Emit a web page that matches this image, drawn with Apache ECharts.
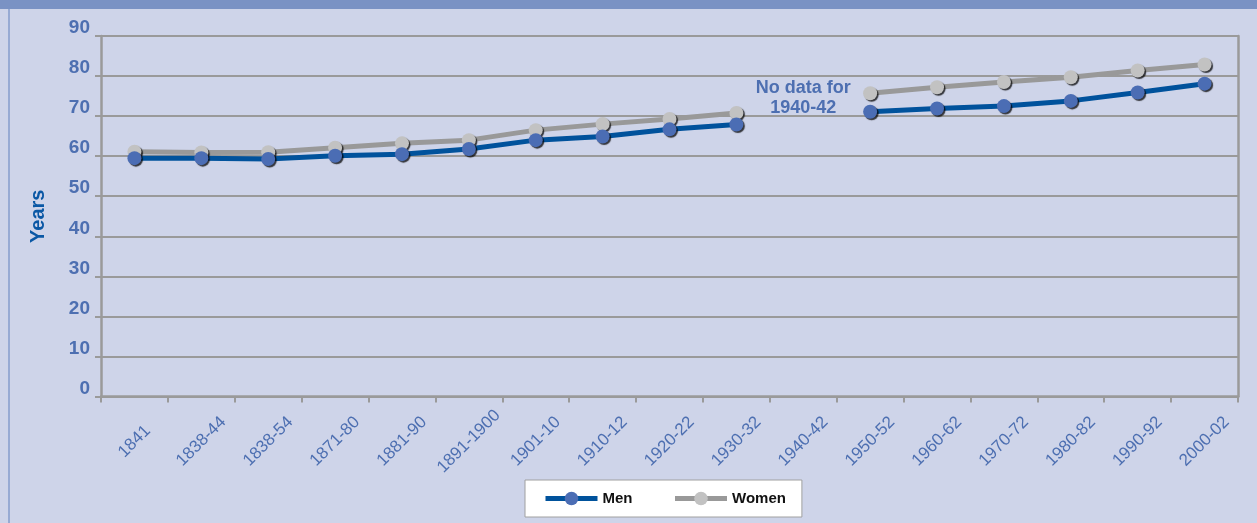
<!DOCTYPE html>
<html>
<head>
<meta charset="utf-8">
<script src="https://cdn.jsdelivr.net/npm/echarts@6/dist/echarts.min.js"></script>
<style>
  html, body { margin: 0; padding: 0; background: #ced4e9; }
  #chart { width: 1257px; height: 523px; }
</style>
</head>
<body>
<div id="chart"></div>
<script>
const periods = ['1841', '1838-44', '1838-54', '1871-80', '1881-90', '1891-1900', '1901-10', '1910-12',
  '1920-22', '1930-32', '1940-42', '1950-52', '1960-62', '1970-72', '1980-82', '1990-92', '2000-02']
const men = [59.5, 59.5, 59.3, 60.1, 60.5, 61.8, 64.0, 64.9, 66.7, 67.9, '-', 71.1, 71.9, 72.5, 73.8, 75.9, 78.1]
const women = [61.1, 60.9, 61.0, 62.1, 63.2, 64.0, 66.5, 68.0, 69.3, 70.8, '-', 75.7, 77.2, 78.5, 79.7, 81.4, 82.9]
const yTicks = { min: 0, max: 90, interval: 10 }
const noDataNote = { period: '1940-42', value: 74.5, text: 'No data for\n1940-42' }

const chart = echarts.init(document.getElementById('chart'))
const labelBlue = '#4d6fb1'
const gridGray = '#9a9a9a'
const font = 'Liberation Sans, Arial, sans-serif'

const option = {
  animation: false,
  backgroundColor: '#ced4e9',
  textStyle: { fontFamily: font },
  graphic: [
    { type: 'rect', shape: { x: 0, y: 0, width: 1257, height: 9 }, style: { fill: '#7a92c4' } },
    { type: 'rect', shape: { x: 8, y: 9, width: 2, height: 514 }, style: { fill: '#97aad3' } },
  ],
  grid: { left: 101, right: 19, top: 36, bottom: 126.5 },
  legend: {
    data: ['Men', 'Women'],
    left: 525,
    top: 480,
    backgroundColor: '#ffffff',
    borderColor: '#a0a0a0',
    borderWidth: 1,
    borderRadius: 0,
    padding: [11, 16, 11, 18],
    itemWidth: 52,
    itemHeight: 17,
    itemGap: 40,
    lineStyle: { width: 5 },
    textStyle: { color: '#111', fontSize: 15, fontWeight: 'bold', fontFamily: font },
  },
  xAxis: {
    type: 'category',
    data: periods,
    boundaryGap: true,
    axisLine: { lineStyle: { color: gridGray, width: 2.5 } },
    axisTick: { show: true, length: 6, lineStyle: { color: gridGray, width: 2 } },
    axisLabel: {
      interval: 0,
      rotate: 45,
      align: 'center',
      verticalAlign: 'middle',
      margin: 45,
      color: labelBlue,
      fontSize: 17,
    },
  },
  yAxis: [
    {
      type: 'value',
      min: yTicks.min,
      max: yTicks.max,
      interval: yTicks.interval,
      name: 'Years',
      nameLocation: 'middle',
      nameGap: 53,
      nameRotate: 90,
      nameTextStyle: { color: '#0b58a5', fontSize: 20, fontWeight: 'bold' },
      axisLine: { show: true, lineStyle: { color: gridGray, width: 2.5 } },
      axisTick: { show: true, length: 6, lineStyle: { color: gridGray, width: 2 } },
      axisLabel: { color: labelBlue, fontSize: 19, fontWeight: 'bold', margin: 11, verticalAlign: 'bottom', lineHeight: 16 },
      splitLine: { show: true, lineStyle: { color: gridGray, width: 1.8 } },
    },
    {
      type: 'value',
      position: 'right',
      min: yTicks.min,
      max: yTicks.max,
      interval: yTicks.interval,
      axisLine: { show: true, lineStyle: { color: gridGray, width: 2.5 } },
      axisTick: { show: false },
      axisLabel: { show: false },
      splitLine: { show: false },
    },
  ],
  series: [
    {
      name: 'Women',
      type: 'line',
      data: women,
      connectNulls: false,
      symbol: 'circle',
      symbolSize: 14,
      lineStyle: { color: '#999999', width: 5 },
      itemStyle: {
        color: '#c2c2c2',
        shadowColor: 'rgba(0,0,0,0.75)',
        shadowBlur: 1,
        shadowOffsetX: 1.5,
        shadowOffsetY: 1.5,
      },
    },
    {
      name: 'Men',
      type: 'line',
      data: men,
      connectNulls: false,
      symbol: 'circle',
      symbolSize: 14,
      lineStyle: { color: '#00529c', width: 5 },
      itemStyle: {
        color: '#4b6db4',
        shadowColor: 'rgba(0,0,0,0.75)',
        shadowBlur: 1,
        shadowOffsetX: 1.5,
        shadowOffsetY: 1.5,
      },
      markPoint: {
        symbol: 'circle',
        symbolSize: 1,
        silent: true,
        itemStyle: { color: 'rgba(0,0,0,0)', shadowColor: 'rgba(0,0,0,0)' },
        data: [{ coord: [noDataNote.period, noDataNote.value] }],
        label: {
          show: true,
          position: 'inside',
          formatter: noDataNote.text,
          color: labelBlue,
          fontSize: 18,
          fontWeight: 'bold',
          lineHeight: 20,
          align: 'center',
        },
      },
    },
  ],
}
chart.setOption(option)
</script>
</body>
</html>
